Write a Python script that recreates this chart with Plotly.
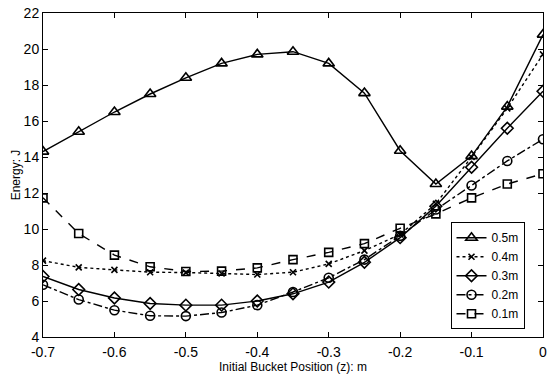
import plotly.graph_objects as go

x_pos = [-0.7, -0.65, -0.6, -0.55, -0.5, -0.45, -0.4, -0.35, -0.3, -0.25, -0.2, -0.15, -0.1, -0.05, 0.0]

e_05 = [14.3, 15.4, 16.5, 17.5, 18.4, 19.2, 19.7, 19.85, 19.2, 17.55, 14.35, 12.5, 14.05, 16.8, 20.8]
e_04 = [8.24, 7.87, 7.73, 7.6, 7.58, 7.53, 7.47, 7.6, 8.06, 8.8, 9.7, 11.4, 14.0, 16.7, 19.7]
e_03 = [7.36, 6.64, 6.17, 5.86, 5.77, 5.77, 6.0, 6.4, 7.05, 8.15, 9.52, 11.27, 13.43, 15.6, 17.65]
e_02 = [6.9, 6.08, 5.49, 5.18, 5.16, 5.36, 5.77, 6.5, 7.29, 8.3, 9.62, 11.08, 12.42, 13.78, 14.99]
e_01 = [11.73, 9.75, 8.55, 7.9, 7.64, 7.66, 7.84, 8.3, 8.7, 9.19, 10.04, 10.84, 11.73, 12.5, 13.07]

names = ["0.5m", "0.4m", "0.3m", "0.2m", "0.1m"]
x_ticks = [-0.7, -0.6, -0.5, -0.4, -0.3, -0.2, -0.1, 0]
x_tick_text = ["-0.7", "-0.6", "-0.5", "-0.4", "-0.3", "-0.2", "-0.1", "0"]
y_ticks = [4, 6, 8, 10, 12, 14, 16, 18, 20, 22]

series = [e_05, e_04, e_03, e_02, e_01]
symbols = ["triangle-up-open", "x-thin-open", "diamond-open", "circle-open", "square-open"]
dashes = ["solid", "dot", "solid", "dashdot", "dash"]
sizes = [10, 6, 9, 9, 8]

fig = go.Figure()
for name, ys, sym, d, s in zip(names, series, symbols, dashes, sizes):
    fig.add_trace(go.Scatter(
        x=x_pos, y=ys, name=name, mode="lines+markers",
        line=dict(color="black", width=1.4, dash=d),
        marker=dict(symbol=sym, size=s, color="black",
                    line=dict(color="black", width=1.6)),
    ))

fam = "Liberation Sans, Arial, sans-serif"
title_font = dict(family=fam, size=12, color="black")
tick_font = dict(family=fam, size=14, color="black")
fig.update_layout(
    width=552, height=376,
    margin=dict(l=43, r=5, t=10, b=39),
    paper_bgcolor="white", plot_bgcolor="white",
    font=title_font,
    showlegend=True,
    legend=dict(x=0.963, y=0.024, xanchor="right", yanchor="bottom",
                bordercolor="black", borderwidth=1, bgcolor="white",
                font=dict(family=fam, size=12, color="black"),
                tracegroupgap=0, itemwidth=30),
    xaxis=dict(range=[-0.7, 0], tickvals=x_ticks, ticktext=x_tick_text, tickfont=tick_font,
               showline=True, linecolor="black", linewidth=1, mirror="allticks",
               ticks="inside", ticklen=5, tickcolor="black", showgrid=False, zeroline=False,
               ticklabelstandoff=2,
               title=dict(text="Initial Bucket Position (z): m", standoff=2, font=title_font)),
    yaxis=dict(range=[4, 22], tickvals=y_ticks, tickfont=tick_font,
               showline=True, linecolor="black", linewidth=1, mirror="allticks",
               ticks="inside", ticklen=5, tickcolor="black", showgrid=False, zeroline=False,
               title=dict(text="Energy: J", standoff=0, font=title_font)),
)

fig.write_html("out.html")
